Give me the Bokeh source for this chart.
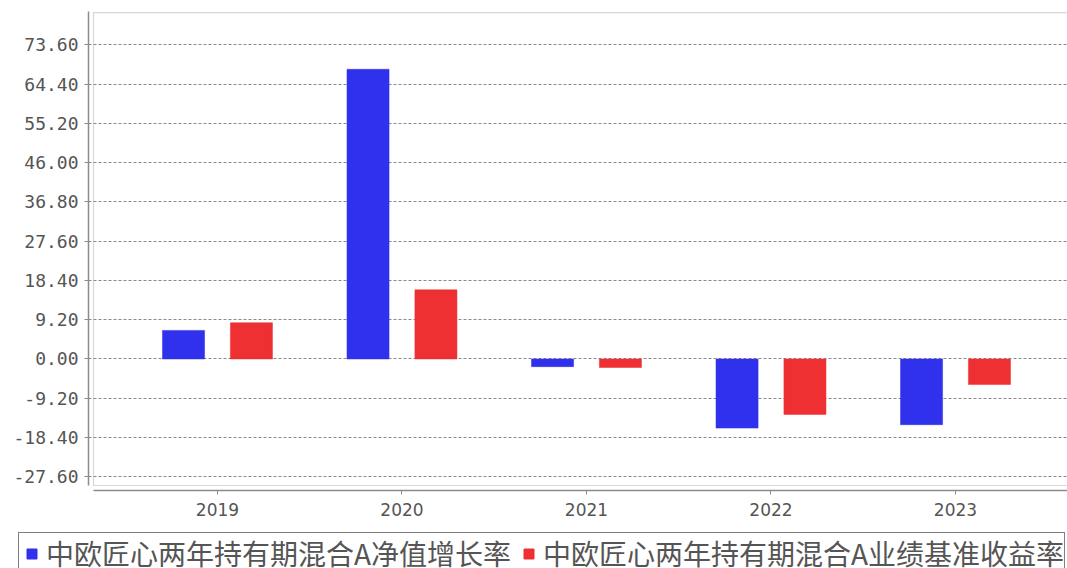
from bokeh.plotting import figure
from bokeh.models import (ColumnDataSource, FixedTicker, Range1d, Legend, LegendItem,
                          BoxAnnotation, PrintfTickFormatter)
from bokeh.layouts import column
from bokeh.transform import dodge
from bokeh.embed import file_html
from bokeh.resources import INLINE

years = ["2019", "2020", "2021", "2022", "2023"]
nav_growth = [6.7, 67.9, -1.8, -16.2, -15.4]
benchmark = [8.5, 16.2, -2.0, -13.0, -6.0]
y_ticks = [-27.6, -18.4, -9.2, 0.0, 9.2, 18.4, 27.6, 36.8, 46.0, 55.2, 64.4, 73.6]
series_names = ["中欧匠心两年持有期混合A净值增长率", "中欧匠心两年持有期混合A业绩基准收益率"]
colors = ["#2f31ec", "#ee3033"]

src = ColumnDataSource(dict(x=list(range(len(years))), a=nav_growth, b=benchmark))

p = figure(width=1067, height=531, x_range=Range1d(-0.699, 4.607), y_range=Range1d(-30.83, 81.45),
           output_backend="svg", toolbar_location=None,
           min_border_left=88, min_border_right=0, min_border_top=11, min_border_bottom=41)
p.outline_line_color = None
p.background_fill_color = "white"

r1 = p.vbar(x=dodge("x", -0.184, range=p.x_range), top="a", width=0.228, source=src,
            fill_color=colors[0], line_color=colors[0], line_alpha=0.5)
r2 = p.vbar(x=dodge("x", 0.184, range=p.x_range), top="b", width=0.228, source=src,
            fill_color=colors[1], line_color=colors[1], line_alpha=0.5)

p.xgrid.visible = False
p.ygrid.ticker = FixedTicker(ticks=y_ticks)
p.ygrid.grid_line_color = "#8a8a8a"
p.ygrid.grid_line_dash = "3 2"
p.ygrid.grid_line_width = 1

ax = p.yaxis[0]
ax.ticker = FixedTicker(ticks=y_ticks)
ax.formatter = PrintfTickFormatter(format="%.2f")
ax.major_label_text_font = "DejaVu Sans Mono"
ax.major_label_text_font_size = "18px"
ax.major_label_text_color = "#555555"
ax.axis_line_color = "#8c8c8c"
ax.axis_line_width = 1.5
ax.major_tick_line_color = "#8c8c8c"
ax.major_tick_out = 4
ax.major_tick_in = 0
ax.minor_tick_line_color = None
ax.major_label_standoff = 6
ax.bounds = (-29.66, 81.45)

bx = p.xaxis[0]
bx.ticker = FixedTicker(ticks=list(range(len(years))))
bx.major_label_overrides = {i: y for i, y in enumerate(years)}
bx.major_label_text_font = "DejaVu Sans"
bx.major_label_text_font_size = "17px"
bx.major_label_text_color = "#555555"
bx.axis_line_color = "#8c8c8c"
bx.axis_line_width = 1.5
bx.major_tick_line_color = "#8c8c8c"
bx.major_tick_out = 4
bx.major_tick_in = 0
bx.minor_tick_line_color = None
bx.major_label_standoff = 8
bx.bounds = (-0.672, 4.607)

box = BoxAnnotation(left=-0.672, bottom=-29.66, top=81.2, fill_color=None, fill_alpha=0,
                    line_color="#7f7f7f", line_width=1.2, level="underlay")
p.add_layout(box)

# legend strip (proxy renderers lie outside this strip's visible range)
q = figure(width=1067, height=37, x_range=Range1d(100, 101), y_range=Range1d(0, 1),
           output_backend="svg", toolbar_location=None,
           x_axis_location=None, y_axis_location=None,
           min_border_left=17, min_border_right=0, min_border_top=0, min_border_bottom=0)
q.outline_line_color = None
q.xgrid.visible = False
q.ygrid.visible = False
l1 = q.scatter(x="x", y="a", source=src, marker="square", fill_color=colors[0], line_color=colors[0])
l2 = q.scatter(x="x", y="b", source=src, marker="square", fill_color=colors[1], line_color=colors[1])

for fig in (p, q):
    try:
        fig.frame_align = False
    except Exception:
        pass

legend = Legend(items=[LegendItem(label=series_names[0], renderers=[l1], index=0),
                       LegendItem(label=series_names[1], renderers=[l2], index=0)],
                orientation="horizontal", location="top_left",
                label_text_font="Noto Sans CJK SC", label_text_font_size="28px",
                label_text_color="#555555",
                glyph_width=25, glyph_height=25, spacing=5, padding=0, margin=1,
                border_line_color="black", border_line_width=1.5, label_standoff=2,
                background_fill_alpha=0)
q.add_layout(legend)

open("out.html", "w").write(file_html(column(p, q, spacing=0), INLINE))
